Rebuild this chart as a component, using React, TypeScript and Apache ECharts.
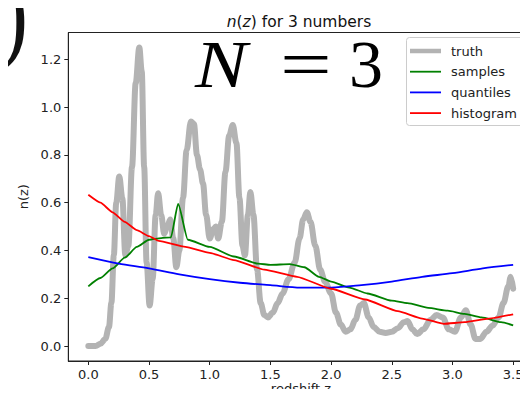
import React, { useEffect, useRef } from "react";
import * as echarts from "echarts";

// ---- data ----
const truthZ = [0.00, 0.06, 0.10, 0.14, 0.17, 0.19, 0.21, 0.23, 0.255, 0.28, 0.305, 0.33, 0.36, 0.39, 0.42, 0.44, 0.46, 0.48, 0.505, 0.53, 0.555, 0.575, 0.60, 0.625, 0.65, 0.675, 0.70, 0.725, 0.75, 0.78, 0.81, 0.845, 0.87, 0.895, 0.92, 0.945, 0.97, 1.00, 1.03, 1.05, 1.07, 1.10, 1.13, 1.16, 1.19, 1.22, 1.245, 1.27, 1.29, 1.315, 1.335, 1.36, 1.39, 1.42, 1.45, 1.48, 1.52, 1.56, 1.60, 1.65, 1.70, 1.74, 1.77, 1.80, 1.83, 1.87, 1.91, 1.95, 2.00, 2.04, 2.08, 2.12, 2.16, 2.20, 2.24, 2.27, 2.31, 2.35, 2.40, 2.45, 2.50, 2.55, 2.60, 2.63, 2.67, 2.71, 2.76, 2.82, 2.87, 2.92, 2.97, 3.02, 3.07, 3.11, 3.15, 3.19, 3.23, 3.28, 3.33, 3.38, 3.42, 3.46, 3.48, 3.50];
const truthN = [0.00, 0.00, 0.01, 0.03, 0.08, 0.18, 0.38, 0.60, 0.71, 0.62, 0.38, 0.42, 0.75, 1.10, 1.25, 1.15, 0.75, 0.35, 0.17, 0.28, 0.55, 0.64, 0.55, 0.47, 0.50, 0.53, 0.45, 0.33, 0.40, 0.62, 0.82, 0.94, 0.93, 0.80, 0.74, 0.68, 0.55, 0.45, 0.49, 0.50, 0.45, 0.52, 0.73, 0.88, 0.925, 0.85, 0.62, 0.42, 0.38, 0.55, 0.645, 0.55, 0.32, 0.18, 0.13, 0.12, 0.14, 0.18, 0.22, 0.28, 0.35, 0.45, 0.53, 0.56, 0.52, 0.42, 0.32, 0.27, 0.22, 0.14, 0.09, 0.06, 0.07, 0.11, 0.17, 0.18, 0.12, 0.08, 0.06, 0.055, 0.06, 0.075, 0.10, 0.105, 0.07, 0.05, 0.07, 0.11, 0.13, 0.12, 0.07, 0.06, 0.12, 0.15, 0.09, 0.03, 0.03, 0.06, 0.085, 0.12, 0.18, 0.25, 0.29, 0.24];

const samplesZ = [0.00, 0.10, 0.20, 0.30, 0.40, 0.50, 0.60, 0.68, 0.74, 0.82, 1.00, 1.20, 1.40, 1.50, 1.66, 1.78, 1.90, 2.00, 2.15, 2.30, 2.50, 2.63, 2.80, 2.96, 3.10, 3.24, 3.40, 3.50];
const samplesN = [0.25, 0.285, 0.325, 0.37, 0.415, 0.445, 0.452, 0.455, 0.595, 0.445, 0.415, 0.375, 0.345, 0.34, 0.343, 0.33, 0.29, 0.27, 0.245, 0.22, 0.19, 0.18, 0.16, 0.148, 0.135, 0.12, 0.10, 0.087];

const quantilesZ = [0.00, 0.25, 0.50, 0.75, 1.00, 1.25, 1.50, 1.75, 2.00, 2.25, 2.50, 2.75, 3.00, 3.25, 3.50];
const quantilesN = [0.372, 0.345, 0.325, 0.30, 0.28, 0.265, 0.255, 0.245, 0.245, 0.255, 0.27, 0.29, 0.305, 0.325, 0.34];

const histogramZ = [0.00, 0.10, 0.20, 0.30, 0.40, 0.50, 0.58, 0.80, 1.00, 1.20, 1.45, 1.72, 2.00, 2.28, 2.55, 2.75, 2.93, 3.10, 3.30, 3.50];
const histogramN = [0.633, 0.60, 0.56, 0.52, 0.485, 0.46, 0.44, 0.415, 0.39, 0.36, 0.32, 0.29, 0.24, 0.195, 0.146, 0.115, 0.093, 0.10, 0.115, 0.133];

const xTicks = [0, 0.5, 1.0, 1.5, 2.0, 2.5, 3.0, 3.5];
const yTicks = [0, 0.2, 0.4, 0.6, 0.8, 1.0, 1.2];

const seriesNames = ["truth", "samples", "quantiles", "histogram"];
const seriesColors = ["#b3b3b3", "#008000", "#0000ff", "#ff0000"];

const pairs = (xs: number[], ys: number[]) => xs.map((x, i) => [x, ys[i]]);

const SANS = "DejaVu Sans";
const SERIF = "Liberation Serif";

export default function App() {
  const ref = useRef<HTMLDivElement>(null);
  useEffect(() => {
    if (!ref.current) return;
    const chart = echarts.init(ref.current, null, { renderer: "svg" });

    const legendTop = 51;
    const legendGap = 20.7;
    const legendGraphics: any[] = [
      {
        type: "rect",
        shape: { x: 406.5, y: 37.5, width: 118, height: 88, r: 3 },
        style: { fill: "rgba(255,255,255,0.85)", stroke: "#cccccc", lineWidth: 1 },
        z: 100,
      },
    ];
    seriesNames.forEach((name, i) => {
      const y = legendTop + i * legendGap;
      legendGraphics.push({
        type: "line",
        shape: { x1: 410, y1: y, x2: 441, y2: y },
        style: { stroke: seriesColors[i], lineWidth: i === 0 ? 4.5 : 1.8 },
        z: 101,
      });
      legendGraphics.push({
        type: "text",
        x: 451,
        y: y,
        style: {
          text: name,
          font: `13px '${SANS}'`,
          fill: "#222",
          textAlign: "left",
          textVerticalAlign: "middle",
          align: "left",
          verticalAlign: "middle",
        },
        z: 101,
      });
    });

    const bigText = (text: string, x: number, italic: boolean, scaleX: number) => ({
      type: "text",
      x,
      y: 64,
      scaleX,
      style: {
        text,
        font: `${italic ? "italic " : ""}68px '${SERIF}'`,
        lineHeight: 44,
        fill: "#000",
        textAlign: "left",
        textVerticalAlign: "middle",
        align: "left",
        verticalAlign: "middle",
      },
      z: 50,
    });

    const option: any = {
      animation: false,
      backgroundColor: "#ffffff",
      title: {
        text: "{i|n}({i|z}) for 3 numbers",
        left: 294,
        top: 9,
        textAlign: "center",
        textStyle: {
          fontFamily: SANS,
          fontSize: 15.5,
          fontWeight: "normal",
          color: "#111",
          rich: {
            i: { fontFamily: SANS, fontSize: 15.5, fontStyle: "italic", color: "#111" },
          },
        },
      },
      grid: {
        left: 68.3,
        right: -6.4,
        top: 32.5,
        bottom: 36,
        containLabel: false,
        outerBoundsMode: "none",
        show: true,
        borderColor: "#222",
        borderWidth: 1,
      },
      xAxis: {
        type: "value",
        min: -0.165,
        max: 3.675,
        splitLine: { show: false },
        axisLine: { show: true, onZero: false, lineStyle: { color: "#222", width: 1 } },
        axisTick: { show: true, inside: false, length: 4, customValues: xTicks, lineStyle: { color: "#222" } },
        axisLabel: {
          show: true,
          customValues: xTicks,
          margin: 7,
          fontFamily: SANS,
          fontSize: 13,
          color: "#222",
          formatter: (v: number) => v.toFixed(1),
        },
      },
      yAxis: {
        type: "value",
        min: -0.0625,
        max: 1.3125,
        name: "n(z)",
        nameLocation: "middle",
        nameGap: 36,
        nameRotate: 90,
        nameTextStyle: { fontFamily: SANS, fontSize: 13, color: "#222" },
        splitLine: { show: false },
        axisLine: { show: true, onZero: false, lineStyle: { color: "#222", width: 1 } },
        axisTick: { show: true, inside: false, length: 4, customValues: yTicks, lineStyle: { color: "#222" } },
        axisLabel: {
          show: true,
          customValues: yTicks,
          margin: 7,
          fontFamily: SANS,
          fontSize: 13,
          color: "#222",
          formatter: (v: number) => v.toFixed(1),
        },
      },
      series: [
        {
          name: "truth",
          type: "line",
          data: pairs(truthZ, truthN),
          showSymbol: false,
          symbol: "none",
          smooth: 0.35,
          smoothMonotone: "x",
          lineStyle: { color: seriesColors[0], width: 6, cap: "round", join: "round" },
          z: 2,
        },
        {
          name: "samples",
          type: "line",
          data: pairs(samplesZ, samplesN),
          showSymbol: false,
          symbol: "none",
          smooth: 0.2,
          smoothMonotone: "x",
          lineStyle: { color: seriesColors[1], width: 1.8 },
          z: 3,
        },
        {
          name: "quantiles",
          type: "line",
          data: pairs(quantilesZ, quantilesN),
          showSymbol: false,
          symbol: "none",
          smooth: 0.3,
          lineStyle: { color: seriesColors[2], width: 1.8 },
          z: 4,
        },
        {
          name: "histogram",
          type: "line",
          data: pairs(histogramZ, histogramN),
          showSymbol: false,
          symbol: "none",
          smooth: 0.15,
          smoothMonotone: "x",
          lineStyle: { color: seriesColors[3], width: 1.8 },
          z: 5,
        },
      ],
      graphic: [
        {
          type: "text",
          x: 0,
          y: -40,
          scaleX: 1.4,
          scaleY: 1.75,
          style: {
            text: ")",
            font: `60px '${SERIF}'`,
            fill: "#111",
            textAlign: "left",
            textVerticalAlign: "top",
            align: "left",
            verticalAlign: "top",
          },
        },
        {
          type: "text",
          x: 301,
          y: 382,
          style: {
            text: "redshift z",
            font: `13px '${SANS}'`,
            fill: "#222",
            textAlign: "center",
            textVerticalAlign: "top",
            align: "center",
            verticalAlign: "top",
          },
        },
        bigText("N", 195, true, 1.15),
        bigText("=", 280, false, 1.35),
        bigText("3", 349, false, 1.0),
        ...legendGraphics,
      ],
    };
    chart.setOption(option);
    return () => chart.dispose();
  }, []);
  return <div ref={ref} style={{ width: 528, height: 397, margin: -8 }} />;
}
